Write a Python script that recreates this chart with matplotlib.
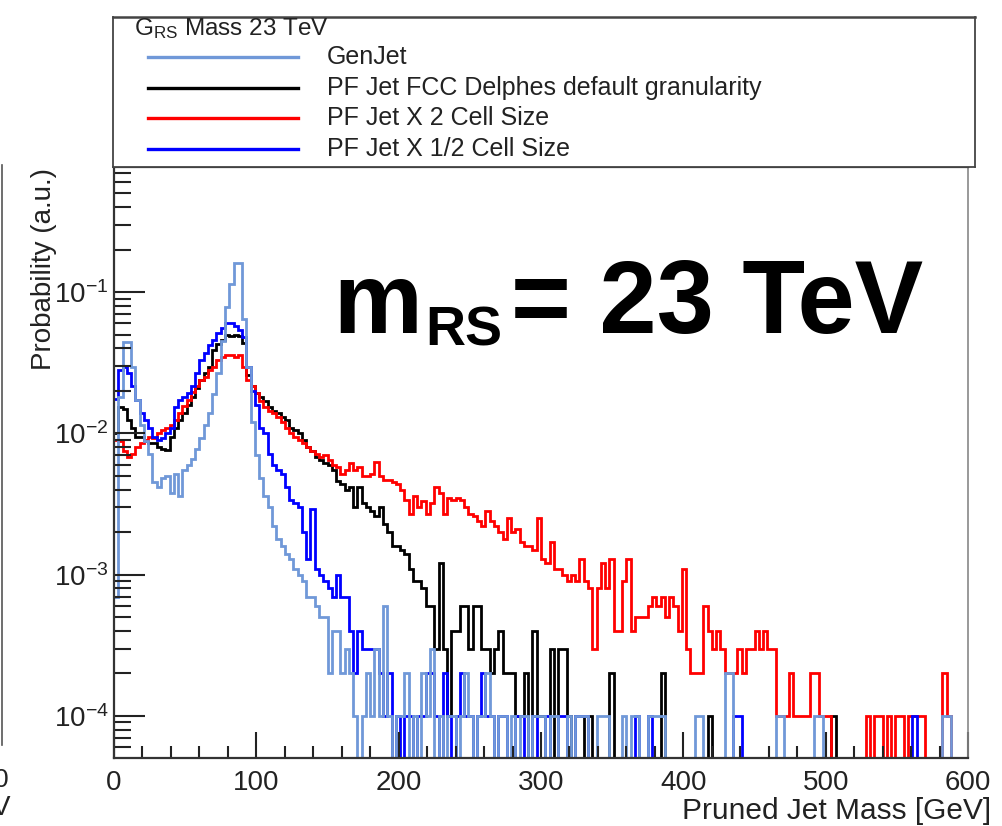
import numpy as np
import matplotlib
matplotlib.use('Agg')
import matplotlib.pyplot as plt
from matplotlib.ticker import LogLocator, MultipleLocator, NullFormatter, FixedLocator
from matplotlib.lines import Line2D

plt.rcParams['font.family'] = ['Liberation Sans', 'DejaVu Sans']
plt.rcParams['mathtext.fontset'] = 'custom'
plt.rcParams['mathtext.rm'] = 'Liberation Sans'
plt.rcParams['mathtext.it'] = 'Liberation Sans:italic'
plt.rcParams['mathtext.bf'] = 'Liberation Sans:bold'

# ── 데이터: 3 GeV 빈, 이벤트 수 (10000 이벤트로 정규화) ─────────────────
N_EVENTS = 10000
edges = np.arange(0, 603, 3)

genjet = [
    7, 180, 446, 440, 296, 172, 115, 88, 72, 45, 42, 48, 50, 38, 52, 36, 55, 60, 66, 78,
    92, 115, 139, 190, 266, 450, 786, 1150, 1600, 1600, 640, 294, 120, 70, 48, 36, 30, 22, 18, 16,
    14, 13, 11, 10, 9, 7, 7, 6, 5, 5, 2, 4, 4, 2, 3, 2, 1, 0, 1, 2,
    1, 3, 1, 6, 1, 0, 1, 1, 2, 0, 1, 0, 2, 1, 3, 0, 1, 0, 1, 1,
    0, 1, 2, 1, 0, 1, 1, 2, 1, 0, 1, 1, 0, 1, 0, 1, 1, 0, 1, 1,
    1, 0, 1, 1, 0, 0, 1, 0, 1, 1, 1, 0, 0, 1, 1, 1, 0, 0, 0, 1,
    0, 1, 1, 0, 0, 1, 1, 1, 1, 0, 0, 0, 0, 0, 0, 0, 1, 1, 0, 0,
    0, 0, 0, 2, 2, 0, 0, 0, 0, 0, 0, 0, 0, 0, 0, 1, 1, 0, 0, 0,
    0, 0, 0, 0, 1, 1, 0, 0, 0, 0, 0, 0, 0, 0, 0, 0, 0, 0, 0, 0,
    0, 0, 0, 0, 0, 0, 0, 0, 0, 0, 0, 0, 0, 0, 1, 1, 0, 0, 0, 0,
]

pf_default = [
    100, 153, 150, 124, 110, 94, 94, 88, 85, 85, 80, 78, 76, 95, 110, 124, 139, 160, 180, 210,
    239, 266, 294, 388, 430, 458, 500, 485, 500, 485, 435, 260, 215, 193, 180, 170, 153, 145, 139, 130,
    124, 110, 105, 100, 90, 80, 75, 68, 65, 62, 60, 55, 46, 44, 40, 42, 30, 42, 32, 30,
    28, 26, 30, 23, 20, 16, 16, 15, 14, 11, 9, 9, 8, 6, 6, 3, 12, 3, 1, 4,
    4, 6, 6, 3, 6, 6, 3, 3, 2, 3, 4, 2, 2, 2, 1, 1, 2, 0, 4, 1,
    1, 0, 3, 0, 3, 3, 1, 0, 1, 1, 0, 1, 0, 0, 0, 0, 2, 0, 0, 0,
    0, 0, 0, 0, 0, 0, 0, 0, 2, 0, 0, 0, 0, 0, 0, 0, 0, 0, 0, 1,
    0, 0, 0, 0, 0, 0, 0, 0, 0, 0, 0, 0, 0, 0, 0, 0, 0, 0, 0, 0,
    0, 0, 0, 0, 0, 0, 0, 0, 1, 0, 0, 0, 0, 0, 0, 0, 0, 0, 0, 0,
    0, 0, 0, 0, 0, 0, 0, 0, 0, 0, 0, 0, 0, 0, 0, 0, 0, 0, 0, 0,
]

pf_x2 = [
    90, 88, 75, 68, 72, 80, 85, 90, 94, 92, 100, 105, 110, 115, 124, 139, 155, 172, 195, 215,
    239, 250, 280, 294, 330, 347, 361, 361, 350, 361, 294, 239, 215, 193, 170, 153, 145, 139, 130, 120,
    110, 100, 95, 90, 85, 80, 75, 72, 68, 70, 65, 60, 58, 52, 55, 62, 55, 58, 50, 50,
    52, 63, 50, 47, 47, 45, 44, 40, 34, 27, 36, 30, 33, 27, 32, 42, 38, 27, 35, 34,
    35, 34, 30, 27, 26, 24, 22, 28, 24, 22, 20, 18, 25, 20, 21, 17, 16, 16, 15, 25,
    13, 12, 17, 11, 11, 10, 9, 10, 9, 13, 9, 8, 3, 8, 12, 8, 13, 4, 4, 9,
    13, 4, 5, 5, 5, 6, 7, 6, 7, 5, 7, 6, 4, 11, 3, 2, 2, 2, 6, 4,
    3, 4, 3, 2, 2, 2, 3, 2, 3, 3, 4, 3, 4, 3, 3, 1, 1, 1, 2, 1,
    1, 1, 1, 2, 2, 1, 1, 1, 0, 0, 0, 0, 0, 0, 0, 0, 1, 0, 1, 1,
    0, 1, 0, 1, 1, 0, 1, 1, 1, 1, 0, 0, 0, 0, 2, 1, 0, 0, 0, 0,
]

pf_half = [
    175, 280, 294, 266, 215, 172, 139, 124, 110, 95, 90, 92, 100, 110, 153, 172, 180, 193, 215, 266,
    331, 370, 420, 458, 510, 560, 600, 600, 580, 540, 480, 294, 200, 160, 110, 100, 72, 60, 55, 52,
    42, 34, 32, 30, 20, 13, 29, 11, 10, 9, 8, 7, 10, 7, 7, 4, 2, 4, 3, 3,
    3, 3, 2, 1, 2, 0, 1, 0, 1, 1, 0, 1, 1, 2, 2, 1, 0, 2, 1, 0,
    1, 2, 1, 1, 0, 1, 2, 1, 1, 0, 1, 1, 0, 0, 1, 1, 0, 0, 1, 0,
    0, 1, 0, 0, 1, 1, 0, 0, 1, 1, 1, 0, 0, 0, 0, 0, 0, 0, 0, 0,
    0, 0, 1, 0, 0, 1, 0, 0, 0, 0, 0, 0, 0, 0, 0, 0, 0, 0, 0, 0,
    0, 0, 0, 0, 0, 1, 1, 0, 0, 0, 0, 0, 0, 0, 0, 0, 0, 0, 0, 0,
    0, 0, 0, 0, 0, 0, 0, 0, 0, 0, 0, 0, 0, 0, 0, 0, 0, 0, 0, 0,
    0, 0, 0, 0, 0, 0, 0, 1, 0, 0, 0, 0, 0, 0, 0, 0, 0, 0, 0, 0,
]

labels = ['GenJet', 'PF Jet FCC Delphes default granularity',
          'PF Jet X 2 Cell Size', 'PF Jet X 1/2 Cell Size']
colors = ['#7098d8', '#000000', '#ff0000', '#0000ff']

YMIN, YMAX = 5.04e-5, 0.768
W, H = 1002, 826

def fx(x):
    return x / W

def fy(y):
    return 1 - y / H

fig = plt.figure(figsize=(W / 100, H / 100), dpi=100)
ax = fig.add_axes([fx(114), fy(758), fx(968) - fx(114), fy(167) - fy(758)])

series = [pf_default, pf_x2, pf_half, genjet]
ser_cols = [colors[1], colors[2], colors[3], colors[0]]
for counts, c in zip(series, ser_cols):
    p = np.asarray(counts, dtype=float) / N_EVENTS
    p = np.where(p > 0, p, YMIN)
    ax.stairs(p, edges, color=c, lw=2.0, baseline=None)

ax.set_yscale('log')
ax.set_xlim(0, 600)
ax.set_ylim(YMIN, YMAX)

ax.xaxis.set_major_locator(MultipleLocator(100))
ax.xaxis.set_minor_locator(MultipleLocator(20))
ax.yaxis.set_major_locator(FixedLocator([1e-4, 1e-3, 1e-2, 1e-1]))
ax.yaxis.set_minor_locator(LogLocator(base=10, subs=np.arange(2, 10), numticks=20))
ax.yaxis.set_minor_formatter(NullFormatter())
ax.set_yticklabels([r'$10^{-4}$', r'$10^{-3}$', r'$10^{-2}$', r'$10^{-1}$'])

ax.tick_params(axis='both', which='both', direction='in', top=False, right=False,
               colors='#222222', labelcolor='#222222', labelsize=20, width=1.5)
ax.tick_params(axis='y', which='major', length=22, pad=4)
ax.tick_params(axis='y', which='minor', length=12)
ax.tick_params(axis='x', which='major', length=19, pad=9)
ax.tick_params(axis='x', which='minor', length=9)

for s in ['left', 'bottom', 'top']:
    ax.spines[s].set_color('#333333')
    ax.spines[s].set_linewidth(1.6)
ax.spines['right'].set_color('#888888')
ax.spines['right'].set_linewidth(1.2)

fig.text(fx(991), fy(811), 'Pruned Jet Mass [GeV]', ha='right', va='center',
         fontsize=21.5, color='#222222')
fig.text(fx(44), fy(168), 'Probability (a.u.)', ha='center', va='top',
         rotation=90, fontsize=20, color='#222222')

# ── 범례 박스 ─────────────────────────────────────────────────────
lax = fig.add_axes([fx(113), fy(167), fx(975) - fx(113), fy(17) - fy(167)])
lax.set_xlim(113, 975)
lax.set_ylim(167, 17)
lax.set_xticks([])
lax.set_yticks([])
for s in lax.spines.values():
    s.set_color('#444444')
    s.set_linewidth(1.3)
lax.spines['top'].set_linewidth(1.8)
lax.text(134, 29, r'G$_{\mathregular{RS}}$ Mass 23 TeV', ha='left', va='center',
         fontsize=17.5, color='#222222')
rows = [57, 88, 118, 149]
for lab, c, yy in zip(labels, colors, rows):
    lax.add_line(Line2D([148, 298], [yy, yy], color=c, lw=2.4))
    lax.text(327, yy, lab, ha='left', va='center', fontsize=18, color='#222222')

# ── 큰 글씨 ───────────────────────────────────────────────────────
fig.text(fx(333), fy(333), 'm', fontsize=72, fontweight='bold', ha='left', va='baseline')
fig.text(fx(425), fy(346), 'RS', fontsize=40, fontweight='bold', ha='left', va='baseline')
fig.text(fx(511), fy(333), '= 23 TeV', fontsize=74, fontweight='bold', ha='left', va='baseline')

# 왼쪽 패널 잘린 부분
fig.add_artist(Line2D([fx(1.5), fx(1.5)], [fy(165), fy(745)], color='#555555', lw=1.2))
fig.text(fx(-6), fy(780), '0', fontsize=19, ha='left', va='center', color='#222222')
fig.text(fx(-8), fy(808), 'V', fontsize=20, ha='left', va='center', color='#222222')

fig.savefig('out.png', dpi=100)
